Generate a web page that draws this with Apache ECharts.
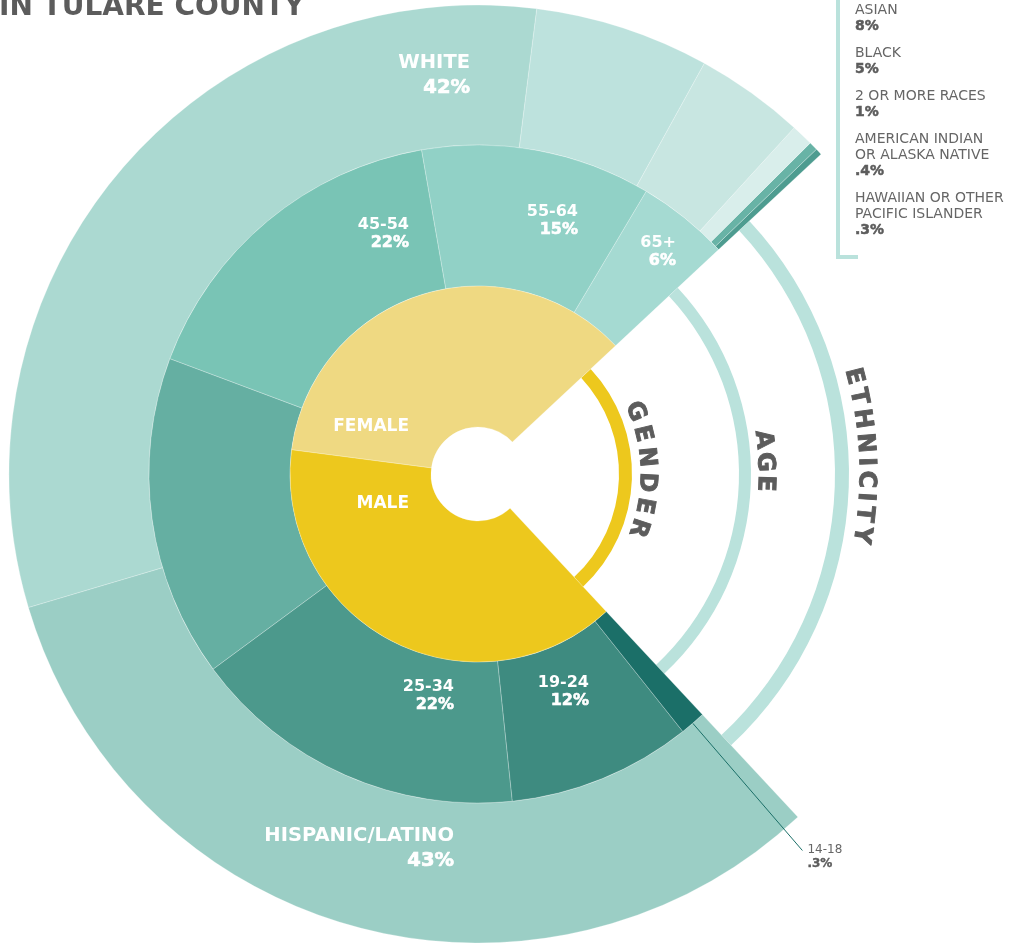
<!DOCTYPE html>
<html>
<head>
<meta charset="utf-8">
<title>In Tulare County</title>
<script src="https://cdn.jsdelivr.net/npm/echarts@6/dist/echarts.min.js"></script>
<style>
    html, body { margin: 0; padding: 0; background: #fff; }
    #main { width: 1013px; height: 944px; }
</style>
</head>
<body>
<div id="main"></div>
<script>
// data
const genderNames = ['FEMALE', 'MALE'];
const genderValues = [48, 52];
const ageNames = ['65+', '55-64', '45-54', '35-44', '25-34', '19-24', '14-18'];
const ageValues = [6, 15, 22, 21, 22, 12, 0.3];
const ethnicNames = ['HAWAIIAN OR OTHER\nPACIFIC ISLANDER', 'AMERICAN INDIAN\nOR ALASKA NATIVE', '2 OR MORE RACES', 'BLACK', 'ASIAN', 'WHITE', 'HISPANIC/LATINO'];
const ethnicValues = [0.3, 0.4, 1, 5, 8, 42, 43];
const ringTitles = ['GENDER', 'AGE', 'ETHNICITY'];

// styles
const genderColors = ['#efd982', '#edc81d'];
const ageColors = ['#a5dad2', '#91d1c6', '#79c4b5', '#65afa2', '#4c998c', '#3e8b80', '#1b6f68'];
const ethnicColors = ['#4e9c90', '#68b3a6', '#d9eeeb', '#c8e6e1', '#bde2dd', '#abd9d1', '#9bcec5'];
const gray = '#5c5c5c';
const ff = '"DejaVu Sans"';
const cx = 478, cy = 474;

// where the in-ring labels sit (right edge, middle)
const labelSpots = {
    'FEMALE': [409, 427], 'MALE': [409, 504],
    '65+': [676, 252], '55-64': [578, 221], '45-54': [409, 234],
    '25-34': [454, 696], '19-24': [589, 692],
    'WHITE': [470, 75], 'HISPANIC/LATINO': [454, 848]
};
// curved ring titles: radius, middle angle (deg), extra letter spacing (px)
const titleArcs = [[169, 1.7, 5.3], [287, 2.6, 3.4], [388, 2.75, 4.3]];
const titleFont = 'bold 24px ' + ff;

function pct(v) {
    return (v < 1 ? String(v).replace(/^0\./, '.') : v) + '%';
}

function placeLabel(names) {
    return function(p) {
        let s = labelSpots[names[p.dataIndex]];
        if (!s) return {};
        return { x: s[0], y: s[1], align: 'right', verticalAlign: 'middle' };
    };
}

function gapArc(r0, r1, color) {
    return {
        type: 'pie', silent: true, center: [cx, cy], radius: [r0, r1],
        startAngle: 43, endAngle: -47, clockwise: true,
        label: { show: false }, labelLine: { show: false },
        data: [{ value: 1, itemStyle: { color: color } }]
    };
}

let graphics = [{
    type: 'text', x: -1, y: 8,
    style: { text: 'IN TULARE COUNTY', fill: gray, font: 'bold 28px ' + ff, verticalAlign: 'middle' }
}];

// ring titles bent along their arcs, letters spaced by their own widths
let ctx = document.createElement('canvas').getContext('2d');
ctx.font = titleFont;
ringTitles.forEach((word, k) => {
    let [r, mid, track] = titleArcs[k];
    let widths = word.split('').map(ch => ctx.measureText(ch).width);
    let total = widths.reduce((a, b) => a + b, 0) + track * (word.length - 1);
    let s = 0;
    word.split('').forEach((ch, i) => {
        let along = s + widths[i] / 2 - total / 2;
        s += widths[i] + track;
        let rad = mid * Math.PI / 180 - along / r;
        graphics.push({
            type: 'text', x: cx + r * Math.cos(rad), y: cy - r * Math.sin(rad),
            rotation: rad - Math.PI / 2,
            style: {
                text: ch, fill: gray, font: titleFont, align: 'center', verticalAlign: 'middle',
                stroke: gray, lineWidth: 0.9
            }
        });
    });
});

// legend for the small groups
graphics.push({ type: 'line', shape: { x1: 838, y1: 0, x2: 838, y2: 259 }, style: { stroke: '#bae2dc', lineWidth: 4 } });
graphics.push({ type: 'line', shape: { x1: 836, y1: 257, x2: 858, y2: 257 }, style: { stroke: '#bae2dc', lineWidth: 4 } });
let ly = 2;
[4, 3, 2, 1, 0].forEach(i => {
    let lines = ethnicNames[i].split('\n');
    graphics.push({
        type: 'text', x: 855, y: ly,
        style: {
            text: lines.map(l => '{n|' + l + '}').join('\n') + '\n{p|' + pct(ethnicValues[i]) + '}',
            rich: {
                n: { fontFamily: ff, fontSize: 14, fill: '#666', lineHeight: 16 },
                p: { fontFamily: ff, fontSize: 14, fontWeight: 'bold', fill: gray, lineHeight: 16, stroke: gray, lineWidth: 0.5 }
            }
        }
    });
    ly += (lines.length + 1) * 16 + 11;
});

let myChart = echarts.init(document.getElementById('main'));
let option = {
    animation: false,
    backgroundColor: '#fff',
    graphic: graphics,
    series: [
        gapArc(141, 154, '#edc81d'),
        gapArc(261, 273, '#bae2dc'),
        gapArc(357, 371, '#bae2dc'),
        {
            type: 'pie', name: 'gender', silent: true, z: 4,
            center: [cx, cy], radius: [47, 188],
            startAngle: 43, endAngle: -47, clockwise: false,
            itemStyle: { borderColor: 'rgba(255,255,255,0.5)', borderWidth: 0.5 },
            label: {
                show: true, position: 'inside',
                formatter: p => '{g|' + p.name + '}',
                rich: {
                    g: { color: '#fff', fontFamily: ff, fontWeight: 'bold', fontSize: 17 }
                }
            },
            labelLine: { show: false },
            labelLayout: placeLabel(genderNames),
            data: genderNames.map((n, i) => ({ name: n, value: genderValues[i], itemStyle: { color: genderColors[i] } }))
        },
        {
            type: 'pie', name: 'age', silent: true, z: 3,
            center: [cx, cy], radius: [188, 329],
            startAngle: 43, endAngle: -47, clockwise: false,
            minAngle: 4.5, avoidLabelOverlap: false,
            itemStyle: { borderColor: 'rgba(255,255,255,0.5)', borderWidth: 0.5 },
            label: {
                show: true, position: 'inside',
                formatter: p => '{n|' + p.name + '}\n{p|' + pct(p.value) + '}',
                rich: {
                    n: { color: '#fff', fontFamily: ff, fontWeight: 'bold', fontSize: 16, lineHeight: 18 },
                    p: { color: '#fff', fontFamily: ff, fontWeight: 'bold', fontSize: 16, lineHeight: 18, textBorderColor: '#fff', textBorderWidth: 0.6 }
                }
            },
            labelLine: { show: false },
            labelLayout: placeLabel(ageNames),
            data: ageNames.map((n, i) => {
                let item = { name: n, value: ageValues[i], itemStyle: { color: ageColors[i] } };
                if (n === '35-44') item.label = { show: false };
                if (n === '14-18') {
                    item.label = {
                        show: true, position: 'outside', padding: [12, 0, 0, 0],
                        formatter: p => '{m|' + p.name + '}\n{q|' + pct(p.value) + '}',
                        rich: {
                            m: { color: '#666', fontFamily: ff, fontSize: 12, lineHeight: 14 },
                            q: { color: gray, fontFamily: ff, fontWeight: 'bold', fontSize: 12, lineHeight: 14, textBorderColor: gray, textBorderWidth: 0.4 }
                        }
                    };
                    item.labelLine = { show: true, length: 168, length2: 0, lineStyle: { color: '#1b6f68', width: 1 } };
                }
                return item;
            })
        },
        {
            type: 'pie', name: 'ethnicity', silent: true, z: 2,
            center: [cx, cy], radius: [329, 469],
            startAngle: 43, endAngle: -47, clockwise: false,
            itemStyle: { borderColor: 'rgba(255,255,255,0.5)', borderWidth: 0.5 },
            label: {
                show: true, position: 'inside',
                formatter: p => '{n|' + p.name + '}\n{p|' + pct(p.value) + '}',
                rich: {
                    n: { color: '#fff', fontFamily: ff, fontWeight: 'bold', fontSize: 19.5, lineHeight: 25 },
                    p: { color: '#fff', fontFamily: ff, fontWeight: 'bold', fontSize: 19.5, lineHeight: 25, textBorderColor: '#fff', textBorderWidth: 0.7 }
                }
            },
            labelLine: { show: false },
            labelLayout: placeLabel(ethnicNames),
            data: ethnicNames.map((n, i) => ({
                name: n, value: ethnicValues[i], itemStyle: { color: ethnicColors[i] },
                label: labelSpots[n] ? undefined : { show: false }
            }))
        }
    ]
};
myChart.setOption(option);
</script>
</body>
</html>
